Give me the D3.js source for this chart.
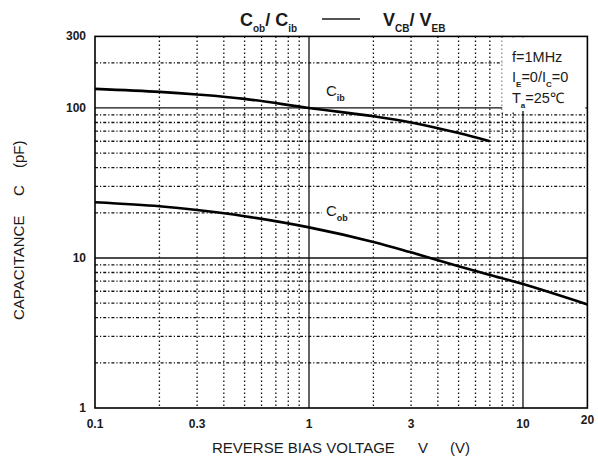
<!DOCTYPE html>
<html>
<head>
<meta charset="utf-8">
<script src="https://cdn.jsdelivr.net/npm/d3@7"></script>
<style>
  body { margin: 0; background: #fff; }
  svg { font-family: "Liberation Sans", Arial, sans-serif; }
  .txt { fill: #1a1a1a; }
</style>
</head>
<body>
<svg class="cap-chart" width="598" height="462"></svg>
<script>
// curve data
const cibVolts = [0.1, 0.2, 0.3, 0.5, 1, 2, 3, 5, 7];
const cibCap = [134, 128, 123, 115, 100, 88, 80, 68, 60];
const cobVolts = [0.1, 0.2, 0.3, 0.5, 1, 2, 3, 5, 7, 10, 20];
const cobCap = [23.5, 22.1, 20.9, 19.0, 16.0, 12.8, 10.9, 8.8, 7.7, 6.7, 4.9];

const xTicks = [0.1, 0.3, 1, 3, 10, 20];
const yTicks = [1, 10, 100, 300];
const xMajor = [1, 10];
const xMinor = [0.2, 0.3, 0.4, 0.5, 0.6, 0.7, 0.8, 0.9, 2, 3, 4, 5, 6, 7, 8, 9];
const yMajor = [10, 100];
const yMinor = [2, 3, 4, 5, 6, 7, 8, 9, 20, 30, 40, 50, 60, 70, 80, 90, 200];

const svg = d3.select("svg.cap-chart");

const xScale = d3.scaleLog().domain([0.1, 20]).range([95, 587.4]);
const yScale = d3.scaleLog().domain([1, 300]).range([408, 36.4]);

const g = svg.append('g');

// minor grid
g.selectAll('.vminor').data(xMinor)
  .enter().append('line')
    .attr('x1', d => xScale(d)).attr('x2', d => xScale(d))
    .attr('y1', yScale(300)).attr('y2', yScale(1))
    .attr('stroke', '#111').attr('stroke-width', 1.3)
    .attr('stroke-dasharray', '1.5,2.5');

g.selectAll('.hminor').data(yMinor)
  .enter().append('line')
    .attr('x1', xScale(0.1)).attr('x2', xScale(20))
    .attr('y1', d => yScale(d)).attr('y2', d => yScale(d))
    .attr('stroke', '#111').attr('stroke-width', 1.3)
    .attr('stroke-dasharray', '3,2,1.2,2');

// major grid
g.selectAll('.vmajor').data(xMajor)
  .enter().append('line')
    .attr('x1', d => xScale(d)).attr('x2', d => xScale(d))
    .attr('y1', yScale(300)).attr('y2', yScale(1))
    .attr('stroke', '#111').attr('stroke-width', 1.3);

g.selectAll('.hmajor').data(yMajor)
  .enter().append('line')
    .attr('x1', xScale(0.1)).attr('x2', xScale(20))
    .attr('y1', d => yScale(d)).attr('y2', d => yScale(d))
    .attr('stroke', '#111').attr('stroke-width', 1.3);

// white area behind the conditions text
g.append('rect')
  .attr('x', xScale(8))
  .attr('y', yScale(300) + 1)
  .attr('width', xScale(20) - xScale(8) - 2)
  .attr('height', yScale(97) - yScale(300) - 1)
  .attr('fill', '#fff');

// curves
const line = d3.line()
  .x(d => xScale(d[0]))
  .y(d => yScale(d[1]))
  .curve(d3.curveCatmullRom.alpha(0.5));

g.append('path')
  .datum(d3.zip(cibVolts, cibCap))
  .attr('d', line)
  .attr('fill', 'none').attr('stroke', '#000').attr('stroke-width', 2.6);

g.append('path')
  .datum(d3.zip(cobVolts, cobCap))
  .attr('d', line)
  .attr('fill', 'none').attr('stroke', '#000').attr('stroke-width', 2.6);

// frame
g.append('rect')
  .attr('x', xScale(0.1)).attr('y', yScale(300))
  .attr('width', xScale(20) - xScale(0.1))
  .attr('height', yScale(1) - yScale(300))
  .attr('fill', 'none').attr('stroke', '#000').attr('stroke-width', 1.6);

// text with subscripts
const subText = (parent, x, y, size, subSize, parts) => {
  const t = parent.append('text').attr('class', 'txt')
    .attr('x', x).attr('y', y)
    .style('font-size', size + 'px');
  const shift = Math.round(size * 0.32);
  let down = false;
  parts.forEach(p => {
    if (p.sub) {
      t.append('tspan').attr('dy', down ? 0 : shift).style('font-size', subSize + 'px')
        .style('font-weight', 'bold').text(p.sub);
      down = true;
    } else {
      t.append('tspan').attr('dy', down ? -shift : 0).text(p.t);
      down = false;
    }
  });
  return t;
};

// curve labels
const curveLabel = (x, y, sub) => {
  const lg = g.append('g');
  lg.append('rect')
    .attr('x', x - 4).attr('y', y - 14)
    .attr('width', 26).attr('height', 22)
    .attr('fill', '#fff');
  subText(lg, x, y, 15, 9, [{t: 'C'}, {sub: sub}]);
};
curveLabel(xScale(1.2), yScale(120), 'ib');
curveLabel(xScale(1.2), yScale(19.1), 'ob');

// conditions text
const cond = svg.append('g');
const condBg = cond.append('rect').attr('fill', '#fff');
subText(cond, 512, 62, 14.5, 8, [{t: 'f=1MHz'}]);
subText(cond, 512, 82, 14.5, 8, [{t: 'I'}, {sub: 'E'}, {t: '=0/I'}, {sub: 'C'}, {t: '=0'}]);
const taText = subText(cond, 512, 103, 14.5, 8, [{t: 'T'}, {sub: 'a'}, {t: '=25\u2103'}]);
const bb = taText.node().getBBox();
condBg.attr('x', bb.x).attr('y', bb.y).attr('width', bb.width).attr('height', bb.height + 1);

// tick labels
svg.selectAll('.xlab').data(xTicks)
  .enter().append('text').attr('class', 'txt')
    .attr('x', d => xScale(d))
    .attr('y', d => d === 20 ? 424 : 428)
    .attr('text-anchor', 'middle')
    .style('font-size', '12px').style('font-weight', 'bold')
    .text(d => d);

svg.selectAll('.ylab').data(yTicks)
  .enter().append('text').attr('class', 'txt')
    .attr('x', 86)
    .attr('y', d => yScale(d) + 4)
    .attr('text-anchor', 'end')
    .style('font-size', '12px').style('font-weight', 'bold')
    .text(d => d);

// axis titles
const xTitle = [['REVERSE BIAS VOLTAGE', 212], ['V', 418], ['(V)', 450]];
svg.selectAll('.xtitle').data(xTitle)
  .enter().append('text').attr('class', 'txt')
    .attr('x', d => d[1]).attr('y', 453)
    .style('font-size', '15px')
    .text(d => d[0]);

const yTitle = [['CAPACITANCE', 320], ['C', 196], ['(pF)', 168]];
svg.selectAll('.ytitle').data(yTitle)
  .enter().append('text').attr('class', 'txt')
    .attr('transform', d => `translate(24, ${d[1]}) rotate(-90)`)
    .style('font-size', '15px')
    .text(d => d[0]);

// title
const title = svg.append('g').style('font-weight', 'bold');
subText(title, 240, 26, 18, 10, [{t: 'C'}, {sub: 'ob'}, {t: '/ C'}, {sub: 'ib'}]);
title.append('line')
  .attr('x1', 322).attr('x2', 360).attr('y1', 19).attr('y2', 19)
  .attr('stroke', '#1a1a1a').attr('stroke-width', 1.6);
subText(title, 383, 26, 18, 10, [{t: 'V'}, {sub: 'CB'}, {t: '/ V'}, {sub: 'EB'}]);
</script>
</body>
</html>
